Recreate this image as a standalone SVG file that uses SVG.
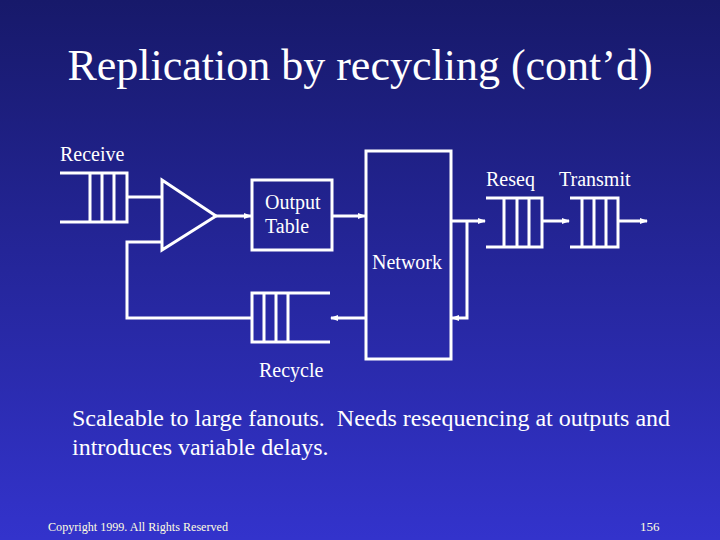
<svg xmlns="http://www.w3.org/2000/svg" width="720" height="540" viewBox="0 0 720 540">
<defs>
<linearGradient id="bg" x1="0" y1="0" x2="0" y2="1">
<stop offset="0" stop-color="#17196a"/>
<stop offset="1" stop-color="#3333cc"/>
</linearGradient>
<marker id="ah" markerWidth="8" markerHeight="6" refX="7" refY="3" orient="auto" markerUnits="userSpaceOnUse">
<path d="M0,0 L8,3 L0,6 Z" fill="#fff"/>
</marker>
<style>
.t{font-family:"Liberation Serif","Times New Roman",serif;fill:#fff}
.l{font-size:20px}
.s{fill:none;stroke:#fff;stroke-width:3}
.c{fill:none;stroke:#fff;stroke-width:3}
</style>
</defs>
<rect width="720" height="540" fill="url(#bg)"/>
<text class="t" x="360" y="80" font-size="44" text-anchor="middle">Replication by recycling (cont’d)</text>

<g id="receive">
<text class="t l" x="60" y="161">Receive</text>
<path class="s" d="M60,173 H127 V222 H60 M90,173 V222 M102,173 V222 M114,173 V222"/>
</g>
<g id="triangle">
<path class="s" d="M162,180 L216,216 L162,250 Z"/>
</g>
<g id="output-table">
<rect class="s" x="252" y="180" width="80" height="70"/>
<text class="t l" x="265" y="209">Output</text>
<text class="t l" x="265" y="233">Table</text>
</g>
<g id="network">
<rect class="s" x="366" y="151" width="85" height="208"/>
<text class="t l" x="372" y="269">Network</text>
</g>
<g id="recycle">
<path class="s" d="M330,293 H252 V342 H330 M264,293 V342 M276,293 V342 M288,293 V342"/>
<text class="t l" x="259" y="377">Recycle</text>
</g>
<g id="reseq">
<text class="t l" x="486" y="186">Reseq</text>
<path class="s" d="M486,198 H542 V247 H486 M504,198 V247 M517,198 V247 M529,198 V247"/>
</g>
<g id="transmit">
<text class="t l" x="559" y="186">Transmit</text>
<path class="s" d="M570,198 H618 V247 H570 M582,198 V247 M594,198 V247 M606,198 V247"/>
</g>

<g id="connectors">
<path class="c" d="M127,197 H162"/>
<path class="c" d="M162,242 H127 V318 H252"/>
<path class="c" d="M216,216 H251" marker-end="url(#ah)"/>
<path class="c" d="M332,216 H365" marker-end="url(#ah)"/>
<path class="c" d="M451,221 H485" marker-end="url(#ah)"/>
<path class="c" d="M467,221 V318 H452" marker-end="url(#ah)"/>
<path class="c" d="M366,318 H331" marker-end="url(#ah)"/>
<path class="c" d="M542,221 H569" marker-end="url(#ah)"/>
<path class="c" d="M618,221 H647" marker-end="url(#ah)"/>
</g>

<text class="t" x="72" y="426" font-size="24" xml:space="preserve">Scaleable to large fanouts.  Needs resequencing at outputs and</text>
<text class="t" x="72" y="455" font-size="24">introduces variable delays.</text>
<text class="t" x="48" y="531" font-size="13" textLength="180" lengthAdjust="spacingAndGlyphs" style="fill:#ffffe0">Copyright 1999. All Rights Reserved</text>
<text class="t" x="640" y="531" font-size="13" style="fill:#ffffe0">156</text>
</svg>
